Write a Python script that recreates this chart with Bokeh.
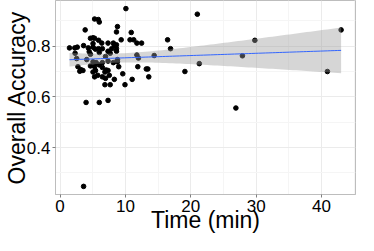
import numpy as np
from bokeh.plotting import figure
from bokeh.models import Range1d, FixedTicker
from bokeh.embed import file_html
from bokeh.resources import INLINE

# Time (min) and overall accuracy per participant
time_min = [
    21.0, 21.3, 19.1, 27.9, 29.8, 26.9, 40.9, 43.0, 16.45, 16.9, 14.4, 3.6,
    10.07, 5.28, 5.85, 6.0, 8.78, 8.63, 3.84, 10.89, 4.65, 5.04, 5.28, 5.9,
    6.38, 7.34, 8.15, 8.63, 9.35, 10.7, 11.27, 11.75, 12.47, 1.44, 2.25, 3.6,
    4.32, 5.04, 5.42, 5.9, 6.47, 7.34, 7.91, 8.3, 2.3, 4.46, 4.65, 6.0,
    7.43, 7.67, 6.95, 8.63, 8.78, 8.78, 11.75, 11.99, 2.54, 4.08, 5.04, 5.52,
    6.47, 7.34, 8.15, 2.73, 3.21, 4.65, 5.28, 6.0, 6.47, 7.05, 8.97, 11.89,
    3.02, 3.5, 5.04, 5.42, 5.76, 5.28, 6.86, 7.34, 7.53, 6.47, 6.95, 9.59,
    8.3, 11.03, 13.19, 13.43, 13.57, 6.86, 7.67, 9.93, 3.98, 6.0, 7.34, 5.04,
    2.63, 8.63,
]
accuracy = [
    0.926, 0.731, 0.700, 0.762, 0.823, 0.556, 0.700, 0.864, 0.825, 0.790, 0.763, 0.247,
    0.948, 0.907, 0.905, 0.895, 0.877, 0.856, 0.864, 0.854, 0.831, 0.833, 0.831, 0.823,
    0.812, 0.812, 0.812, 0.805, 0.825, 0.825, 0.825, 0.812, 0.812, 0.793, 0.793, 0.802,
    0.793, 0.796, 0.788, 0.790, 0.790, 0.780, 0.790, 0.802, 0.772, 0.778, 0.768, 0.775,
    0.778, 0.772, 0.759, 0.780, 0.747, 0.738, 0.765, 0.753, 0.751, 0.747, 0.738, 0.735,
    0.735, 0.741, 0.735, 0.719, 0.707, 0.722, 0.719, 0.726, 0.716, 0.706, 0.719, 0.719,
    0.701, 0.704, 0.698, 0.704, 0.685, 0.679, 0.698, 0.704, 0.685, 0.679, 0.673, 0.691,
    0.669, 0.669, 0.710, 0.710, 0.679, 0.648, 0.648, 0.648, 0.578, 0.578, 0.586, 0.810,
    0.796, 0.790,
]

x_ticks = [0, 10, 20, 30, 40]
x_minor = [5, 15, 25, 35, 45]
y_ticks = [0.4, 0.6, 0.8]
y_minor = [0.3, 0.5, 0.7, 0.9]

# linear fit with 95% confidence band (as geom_smooth(method="lm"))
x = np.array(time_min)
y = np.array(accuracy)
n = len(x)
b1, b0 = np.polyfit(x, y, 1)
xs = np.linspace(x.min(), x.max(), 80)
yhat = b0 + b1 * xs
resid = y - (b0 + b1 * x)
s = np.sqrt(np.sum(resid ** 2) / (n - 2))
sxx = np.sum((x - x.mean()) ** 2)
t_crit = 1.986
se = s * np.sqrt(1.0 / n + (xs - x.mean()) ** 2 / sxx)
lower = yhat - t_crit * se
upper = yhat + t_crit * se

p = figure(width=358, height=235, output_backend="svg", toolbar_location=None,
           x_range=Range1d(-0.7, 45.2), y_range=Range1d(0.215, 0.98),
           min_border_left=40, min_border_right=3, min_border_top=0, min_border_bottom=30)
p.background_fill_color = "white"
p.border_fill_color = "white"
p.outline_line_color = "#BDBDBD"
p.outline_line_width = 1

p.xaxis.ticker = FixedTicker(ticks=x_ticks, minor_ticks=x_minor)
p.yaxis.ticker = FixedTicker(ticks=y_ticks, minor_ticks=y_minor)

for g in (p.xgrid, p.ygrid):
    g.grid_line_color = "#EBEBEB"
    g.grid_line_width = 1
    g.minor_grid_line_color = "#F5F5F5"
    g.minor_grid_line_width = 1

for ax in (p.xaxis, p.yaxis):
    ax.axis_line_color = "#BDBDBD"
    ax.major_tick_line_color = "#7F7F7F"
    ax.major_tick_out = 3
    ax.major_tick_in = 0
    ax.minor_tick_line_color = None
    ax.major_label_text_font = "Liberation Sans"
    ax.major_label_text_font_size = "17px"
    ax.major_label_text_color = "black"
    ax.axis_label_text_font = "Liberation Sans"
    ax.axis_label_text_font_size = "23px"
    ax.axis_label_text_font_style = "normal"
    ax.axis_label_text_color = "black"
    ax.major_label_standoff = 1

p.xaxis.axis_label = "Time (min)"
p.yaxis.axis_label = "Overall Accuracy"
p.xaxis.axis_label_standoff = -8
p.yaxis.axis_label_standoff = -6

p.scatter(time_min, accuracy, size=4.6, color="black")
p.varea(x=xs, y1=lower, y2=upper, fill_color="#999999", fill_alpha=0.4)
p.line(xs, yhat, line_color="#3366FF", line_width=1)

open("out.html", "w").write(file_html(p, INLINE))
